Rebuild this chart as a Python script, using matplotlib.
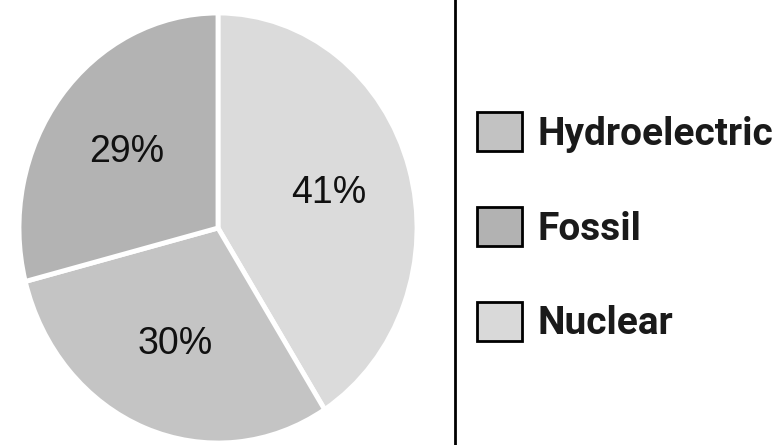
import matplotlib.pyplot as plt
from matplotlib.patches import Patch

# Slice data (drawn clockwise from 12 o'clock)
sources = ['Nuclear', 'Hydroelectric', 'Fossil']
shares = [41, 30, 29]
slice_colors = ['#dbdbdb', '#c4c4c4', '#b3b3b3']

# Legend order as shown in the chart
legend_order = ['Hydroelectric', 'Fossil', 'Nuclear']
legend_colors = {'Nuclear': '#d9d9d9', 'Hydroelectric': '#c2c2c2', 'Fossil': '#b2b2b2'}

W, H = 780, 445
fig = plt.figure(figsize=(W / 100, H / 100), dpi=100)
fig.patch.set_facecolor('white')

# pie axes: slightly taller than wide, like the original
cx, cy, rx, ry = 218, 217, 199, 215
ax = fig.add_axes([(cx - rx) / W, (cy - ry) / H, 2 * rx / W, 2 * ry / H])
wedges, texts, autotexts = ax.pie(
    shares, colors=slice_colors, startangle=90, counterclock=False,
    autopct=lambda p: f'{round(p):d}%', pctdistance=0.58,
    wedgeprops=dict(edgecolor='white', linewidth=3.5),
    textprops=dict(fontsize=27, color='#111111', family=['Liberation Sans', 'DejaVu Sans']))
ax.set_aspect('auto')
ax.set_xlim(-1, 1)
ax.set_ylim(-1, 1)
ax.axis('off')

# divider line
fig.add_artist(plt.Line2D([455 / W, 455 / W], [0, 1], color='black', linewidth=2))

handles = [Patch(facecolor=legend_colors[s], edgecolor='black', linewidth=2) for s in legend_order]
leg = fig.legend(handles, legend_order, loc='upper left', bbox_to_anchor=(446 / W, 1 - 81 / H),
                 frameon=False, handlelength=1.15, handleheight=1.15, handletextpad=0.4,
                 labelspacing=1.4, borderpad=0.3,
                 prop=dict(family=['Roboto', 'Liberation Sans', 'DejaVu Sans'],
                           weight='bold', size=28))
for t in leg.get_texts():
    t.set_color('#1a1a1a')

fig.savefig('out.png', dpi=100, facecolor='white')
